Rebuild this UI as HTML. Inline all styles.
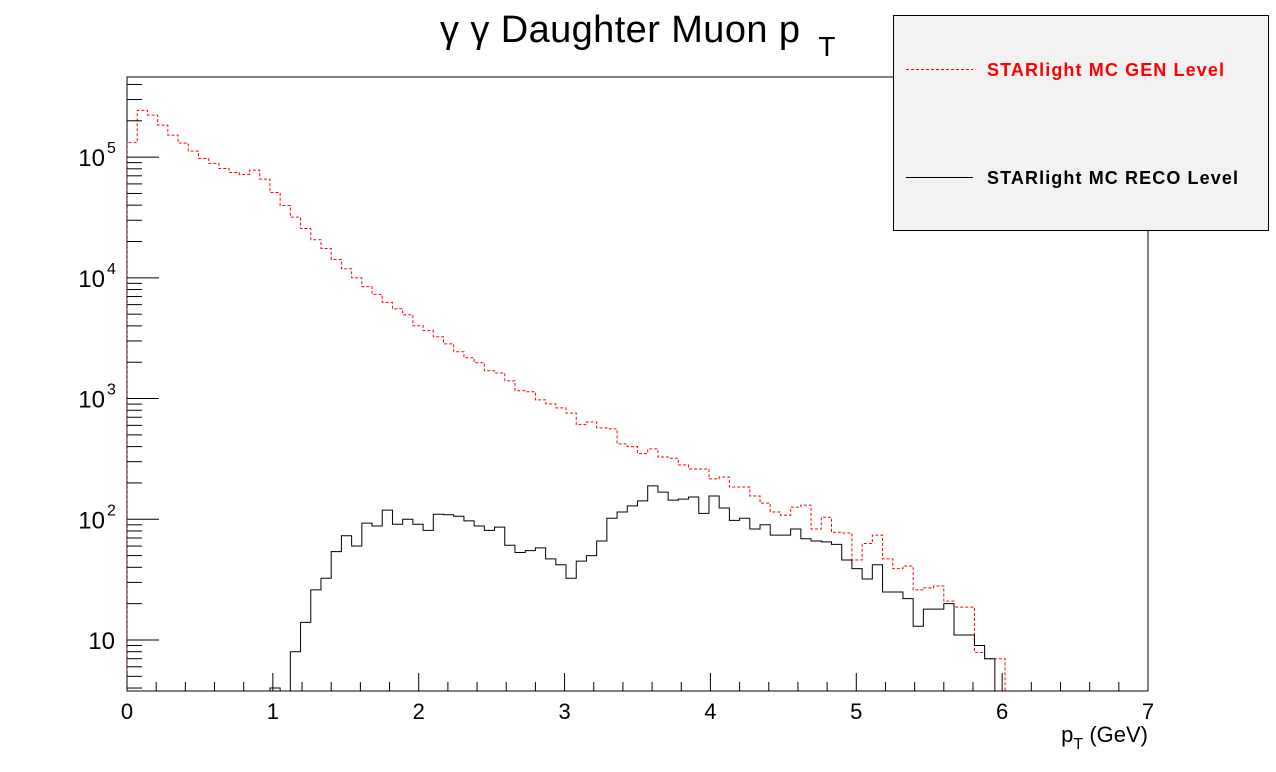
<!DOCTYPE html>
<html><head><meta charset="utf-8"><style>
body{margin:0;background:#fff;width:1276px;height:772px;overflow:hidden}
svg{display:block;font-family:"Liberation Sans",sans-serif}
</style></head><body>
<svg id="c" width="1276" height="772"></svg>
<script>
const binWidth = 0.07;
const genCounts = [132000,244000,223000,184000,152000,131000,112000,97500,88700,80500,74600,71800,78000,65700,50900,39700,31800,25600,20700,17500,14200,11900,10000,8450,7300,6260,5550,4950,4010,3650,3250,2840,2440,2180,1980,1700,1630,1400,1160,1140,975,904,838,760,608,641,571,561,421,400,350,383,328,320,282,261,261,216,224,185,185,156,136,115,108,126,131,83,104,78,77,46,63,74,47,39,41,26,27,28,21,18.7,18.7,7.9,7,7,0,0,0,0,0,0,0,0,0,0,0,0,0,0];
const recoCounts = [0,0,0,0,0,0,0,0,0,0,0,0,0,0,4,0,8,14,26,32.5,54,73,60,93,88,119,91,100,91,81,110,109,106,97,88,81,86,61,53,55,58,47,42,32.5,45,50,66,102,115,129,142,189,168,144,147,153,112,156,124,98,102,83,90,74,74,83,69,66,65,62,46,39,32,42,25,25,22,13,18,18,20,11,11,9,7,0,0,0,0,0,0,0,0,0,0,0,0,0,0,0];
const xTicks = [0,1,2,3,4,5,6,7];
const yDecades = [1,2,3,4,5];

const NS="http://www.w3.org/2000/svg";
const svg=document.getElementById('c');
const L=127,R=1148,T=77,B=691;
const xMin=0,xMax=7,yLogMin=Math.log10(3.78),yLogMax=Math.log10(461000);
const xs=v=>L+(v-xMin)/(xMax-xMin)*(R-L);
const ys=v=>{if(v<=0)return B+5;const y=B-(Math.log10(v)-yLogMin)/(yLogMax-yLogMin)*(B-T);return Math.min(y,B+5);};
function mk(tag,attrs,parent){const e=document.createElementNS(NS,tag);for(const k in attrs)e.setAttribute(k,attrs[k]);(parent||svg).appendChild(e);return e;}

const defs=mk('defs',{});
const cp=mk('clipPath',{id:'clip'},defs);
mk('rect',{x:L,y:T,width:R-L,height:B-T},cp);

const frame=mk('rect',{x:L,y:T,width:R-L,height:B-T,fill:'#fff',stroke:'#000','stroke-width':1});



function stepPath(counts){
  let d='';let prev=0;
  for(let i=0;i<counts.length;i++){
    const x0=xs(i*binWidth),x1=xs((i+1)*binWidth),y=ys(counts[i]);
    if(i===0)d+='M'+x0+' '+ys(prev);
    d+='L'+x0+' '+y+'L'+x1+' '+y;
  }
  return d;
}
const g=mk('g',{'clip-path':'url(#clip)'});
const gen=mk('path',{d:stepPath(genCounts),fill:'none',stroke:'#f00','stroke-width':1,'stroke-dasharray':'3,2'},g);


const reco=mk('path',{d:stepPath(recoCounts),fill:'none',stroke:'#000','stroke-width':1},g);



for(let v=0;v<=7.0001;v+=0.2){
  const major=Math.abs(v-Math.round(v))<1e-6;
  const x=xs(v);
  const t=mk('line',{x1:x,x2:x,y1:B,y2:B-(major?18:9),stroke:'#000'});
  
  
}
xTicks.forEach(v=>{
  const t=mk('text',{x:xs(v),y:B+28,'font-size':22,'text-anchor':'middle'});
  t.textContent=v;
  
  
});
for(let d=0;d<=5;d++){
  for(let m=1;m<=9;m++){
    const v=m*Math.pow(10,d);
    const lv=Math.log10(v);
    if(lv<yLogMin||lv>yLogMax)continue;
    const y=ys(v);
    const t=mk('line',{x1:L,x2:L+(m===1?32:15),y1:y,y2:y,stroke:'#000'});
    
    
  }
}
yDecades.forEach(d=>{
  const y=ys(Math.pow(10,d));
  const t=mk('text',{x:d===1?115:105,y:y+9,'font-size':24,'text-anchor':'end'});
  t.textContent='10';
  
  
  if(d>1){const s=mk('text',{x:107,y:y-4,'font-size':16,'text-anchor':'start'});s.textContent=d;
    
    }
});
</script>
<svg width="1276" height="772" style="position:absolute;left:0;top:0;font-family:'Liberation Sans',sans-serif">
<text x="440" y="42" font-size="38"><tspan textLength="360">γ γ Daughter Muon p</tspan><tspan font-size="28" dx="18" dy="14">T</tspan></text>
<text x="1148" y="742" font-size="22" text-anchor="end">p<tspan font-size="16" dy="7">T</tspan><tspan dy="-7"> (GeV)</tspan></text>
<g>
<rect x="893.5" y="15.5" width="375" height="215" fill="#f2f2f2" stroke="#000" stroke-width="1"/>
<line x1="906" x2="973" y1="69.5" y2="69.5" stroke="#f00" stroke-dasharray="3,2"/>
<text x="987" y="76" font-size="18" font-weight="bold" fill="#f00" textLength="237">STARlight MC GEN Level</text>
<line x1="906" x2="973" y1="177.5" y2="177.5" stroke="#000"/>
<text x="987" y="184" font-size="18" font-weight="bold" fill="#000" textLength="251">STARlight MC RECO Level</text>
</g>
</svg>
</body></html>
